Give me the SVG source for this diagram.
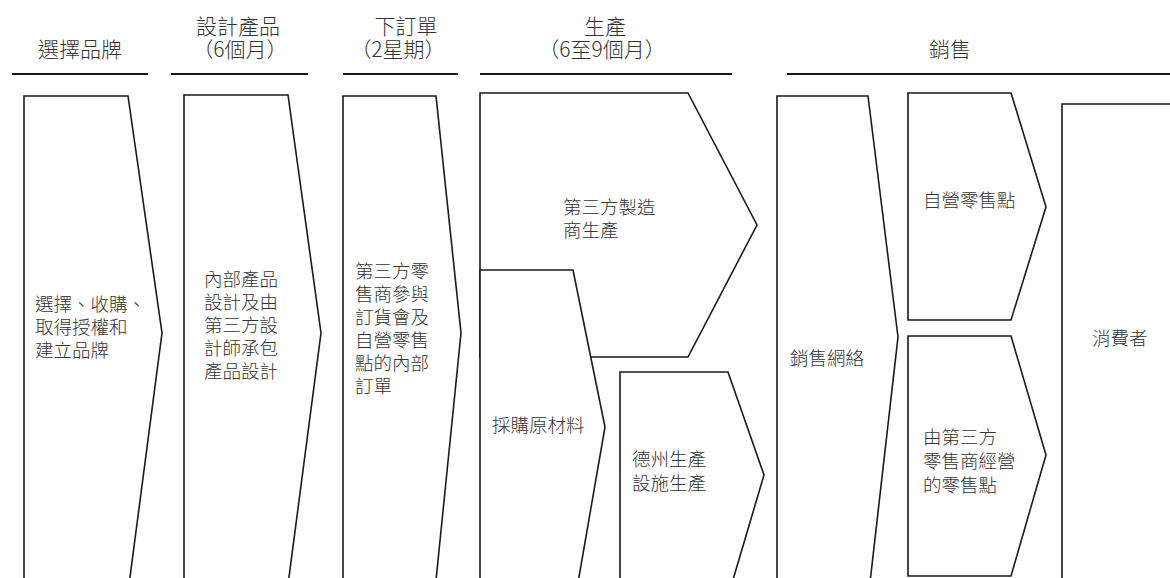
<svg xmlns="http://www.w3.org/2000/svg" width="1170" height="578" viewBox="0 0 1170 578">
<style>
.bg{fill:#fff}
.shape{fill:#fff;stroke:#1a1a1a;stroke-width:1.6;stroke-linejoin:miter}
.rule{stroke:#1a1a1a;stroke-width:2}
text{font-family:"Noto Sans CJK TC","Noto Sans CJK SC",sans-serif;fill:#333;font-weight:300}
.h{font-size:21px;text-anchor:middle}
.t{font-size:18.5px}
</style>
<rect class="bg" x="0" y="0" width="1170" height="578"/>
<g id="headers">
<text class="h" x="80" y="57">選擇品牌</text>
<line class="rule" x1="12" y1="74" x2="148" y2="74"/>
<text class="h"><tspan x="238" y="34">設計產品</tspan><tspan x="240" y="57">（6個月）</tspan></text>
<line class="rule" x1="171" y1="74" x2="308" y2="74"/>
<text class="h"><tspan x="406" y="34">下訂單</tspan><tspan x="398" y="57">（2星期）</tspan></text>
<line class="rule" x1="343" y1="74" x2="458" y2="74"/>
<text class="h"><tspan x="605" y="34">生產</tspan><tspan x="602" y="57">（6至9個月）</tspan></text>
<line class="rule" x1="480" y1="74" x2="732" y2="74"/>
<text class="h" x="950" y="57">銷售</text>
<line class="rule" x1="787" y1="74" x2="1172" y2="74"/>
</g>
<g id="node-brand">
<polygon class="shape" points="24,96 128,96 162,333 127,600 24,600"/>
<text class="t"><tspan x="35" y="311">選擇、收購、</tspan><tspan x="35" y="334">取得授權和</tspan><tspan x="35" y="357">建立品牌</tspan></text>
</g>
<g id="node-design">
<polygon class="shape" points="184,95 288,95 321,333 286,600 184,600"/>
<text class="t"><tspan x="204" y="286">內部產品</tspan><tspan x="204" y="309">設計及由</tspan><tspan x="204" y="332">第三方設</tspan><tspan x="204" y="355">計師承包</tspan><tspan x="204" y="378">產品設計</tspan></text>
</g>
<g id="node-order">
<polygon class="shape" points="343,96 436,96 461,333 434,600 343,600"/>
<text class="t"><tspan x="355" y="278">第三方零</tspan><tspan x="355" y="301">售商參與</tspan><tspan x="355" y="324">訂貨會及</tspan><tspan x="355" y="347">自營零售</tspan><tspan x="355" y="370">點的內部</tspan><tspan x="355" y="393">訂單</tspan></text>
</g>
<g id="node-thirdparty-mfg">
<polygon class="shape" points="480,93 688,93 757,225 688,357 480,357"/>
<text class="t"><tspan x="563" y="214">第三方製造</tspan><tspan x="563" y="237">商生產</tspan></text>
</g>
<g id="node-raw">
<polygon class="shape" points="480,270 573,270 605,427 575,600 480,600"/>
<text class="t" x="492" y="432">採購原材料</text>
</g>
<g id="node-dezhou">
<polygon class="shape" points="620,372 728,372 764,475 727,600 620,600"/>
<text class="t"><tspan x="632" y="466">德州生產</tspan><tspan x="632" y="490">設施生產</tspan></text>
</g>
<g id="node-network">
<polygon class="shape" points="777,96 868,96 898,337 868,600 777,600"/>
<text class="t" x="790" y="365">銷售網絡</text>
</g>
<g id="node-own-retail">
<polygon class="shape" points="908,93 1011,93 1046,207 1011,320 908,320"/>
<text class="t" x="923" y="207">自營零售點</text>
</g>
<g id="node-third-retail">
<polygon class="shape" points="908,336 1011,336 1046,455 1011,576 908,576"/>
<text class="t"><tspan x="923" y="444">由第三方</tspan><tspan x="923" y="468">零售商經營</tspan><tspan x="923" y="492">的零售點</tspan></text>
</g>
<g id="node-consumer">
<polygon class="shape" points="1062,104 1180,104 1180,600 1062,600"/>
<text class="t" x="1092" y="345">消費者</text>
</g>
<g id="connectors"></g>
</svg>
